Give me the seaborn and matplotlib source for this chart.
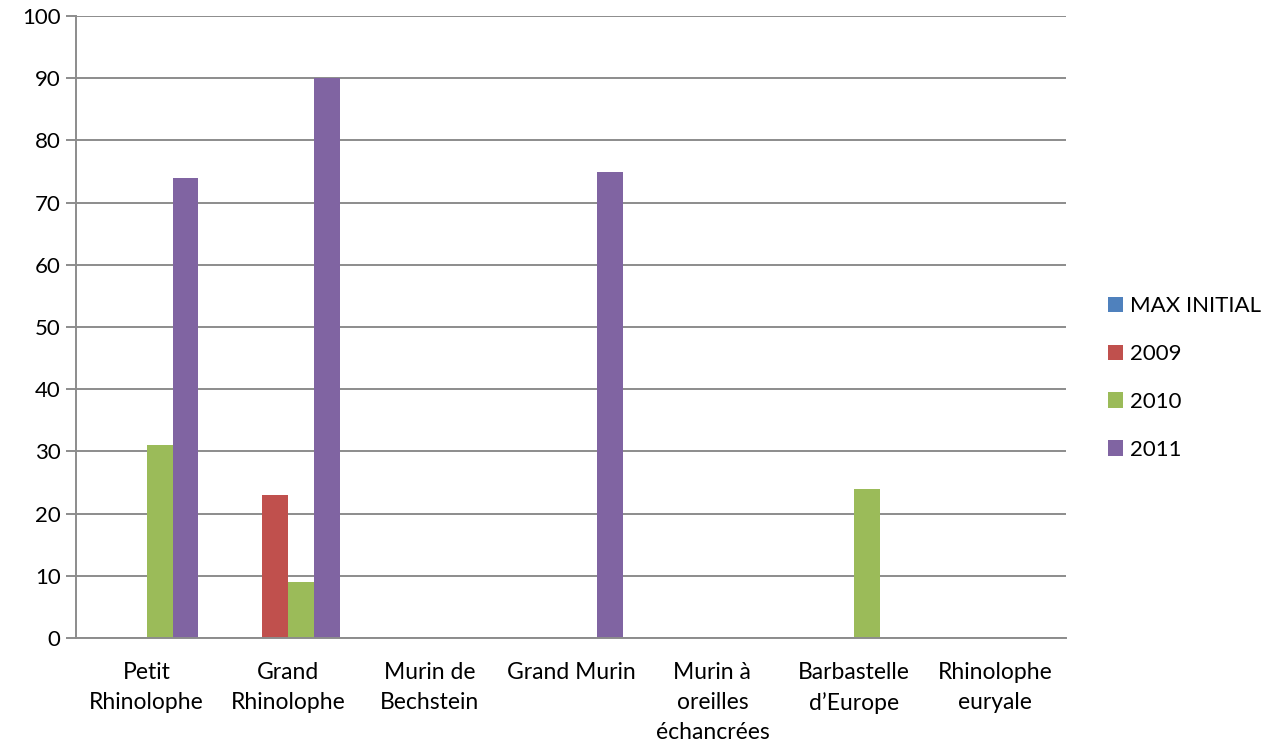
import numpy as np
import pandas as pd
from matplotlib import pyplot as plt
import seaborn as sns

# species (x categories) and yearly counts per series
species = ['Petit\nRhinolophe', 'Grand\nRhinolophe', 'Murin de\nBechstein', 'Grand Murin',
           'Murin à\noreilles\néchancrées', 'Barbastelle\nd\u2019Europe', 'Rhinolophe\neuryale']
series = ['MAX INITIAL', '2009', '2010', '2011']
max_initial = [0, 0, 0, 0, 0, 0, 0]
y2009 = [0, 23, 0, 0, 0, 0, 0]
y2010 = [31, 9, 0, 0, 0, 24, 0]
y2011 = [74, 90, 0, 75, 0, 0, 0]
colors = ['#4F81BD', '#C0504D', '#9BBB59', '#8064A2']

sns.set_style('white')
plt.rcParams['font.family'] = ['Lato', 'DejaVu Sans']
plt.rcParams['text.color'] = 'black'

df = pd.DataFrame({'species': species * 4,
                   'series': np.repeat(series, len(species)),
                   'value': max_initial + y2009 + y2010 + y2011})

fig = plt.figure(figsize=(12.68, 7.49), dpi=100)
ax = fig.add_axes([76/1268, 1 - 638/749, (1066-76)/1268, (638-16)/749])

sns.barplot(data=df, x='species', y='value', hue='series', hue_order=series,
            palette=colors, width=0.73, linewidth=0, saturation=1, ax=ax, errorbar=None)

ax.set_ylim(0, 100)
ax.set_xlim(-0.5, len(species) - 0.5)
ax.set_yticks(range(0, 101, 10))
ax.yaxis.grid(True, color='#8c8c8c', linewidth=1.4)
ax.set_axisbelow(True)
ax.set_xlabel('')
ax.set_ylabel('')

for side in ['top', 'right']:
    ax.spines[side].set_visible(False)
for side in ['left', 'bottom']:
    ax.spines[side].set_color('#8c8c8c')
    ax.spines[side].set_linewidth(1.4)

# category boundaries carry the tick marks, labels sit in between
ax.set_xticks(np.arange(len(species)))
ax.set_xticklabels(species, fontsize=16.5, linespacing=1.55)
ax.set_xticks(np.arange(-0.5, len(species)), minor=True)
ax.tick_params(axis='x', which='major', length=0, pad=17, labelcolor='black')
ax.tick_params(axis='x', which='minor', length=8, width=1.4, color='#8c8c8c', direction='out')
ax.tick_params(axis='y', length=7, width=1.4, color='#8c8c8c', direction='out',
               labelsize=16, pad=4, labelcolor='black')
ax.tick_params(left=True, bottom=True)

ax.legend(loc='center left', bbox_to_anchor=(1.042, 0.418), frameon=False, fontsize=16,
          handlelength=0.7, handleheight=0.7, handletextpad=0.3, labelspacing=1.25,
          borderpad=0, borderaxespad=0)

fig.savefig('out.png', dpi=100)
